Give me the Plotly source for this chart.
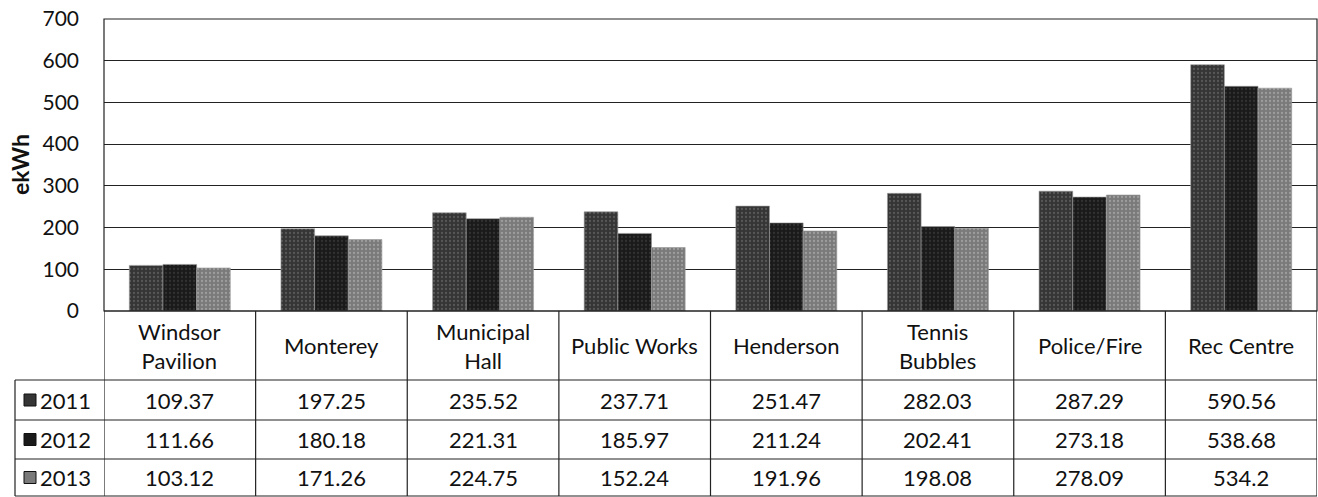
import plotly.graph_objects as go

categories = ["Windsor Pavilion", "Monterey", "Municipal Hall", "Public Works",
              "Henderson", "Tennis Bubbles", "Police/Fire", "Rec Centre"]
header_labels = ["Windsor<br>Pavilion", "Monterey", "Municipal<br>Hall", "Public Works",
                 "Henderson", "Tennis<br>Bubbles", "Police/Fire", "Rec Centre"]
series_names = ["2011", "2012", "2013"]
v2011 = [109.37, 197.25, 235.52, 237.71, 251.47, 282.03, 287.29, 590.56]
v2012 = [111.66, 180.18, 221.31, 185.97, 211.24, 202.41, 273.18, 538.68]
v2013 = [103.12, 171.26, 224.75, 152.24, 191.96, 198.08, 278.09, 534.2]
y_ticks = [0, 100, 200, 300, 400, 500, 600, 700]

series_values = [v2011, v2012, v2013]
colors = ["#353535", "#1a1a1a", "#7a7a7a"]
dot_colors = ["#7a7a7a", "#4a4a4a", "#c0c0c0"]
FONT = "Lato"
W, H = 1318, 497
ML, MR, MT, MB = 104, 1, 19, 186
PH = H - MT - MB
PW = W - ML - MR

def py(pix):
    return (H - MB - pix) / PH

def px(pix):
    return (pix - ML) / PW

fig = go.Figure()
n = len(categories)
for name, vals, c, dc in zip(series_names, series_values, colors, dot_colors):
    fig.add_trace(go.Bar(
        x=list(range(n)), y=vals, name=name,
        marker=dict(color=c, line=dict(color="#9a9a9a", width=0.6),
                    pattern=dict(shape=".", fgcolor=dc, size=4, solidity=0.25,
                                 fillmode="overlay")),
        showlegend=False,
    ))

shapes = []
annotations = []
line = dict(color="#222222", width=1.2)

# table horizontal lines (y in pixels)
row_lines = [311, 380, 420, 459, 496]
for i, yl in enumerate(row_lines):
    shapes.append(dict(type="line", xref="paper", yref="paper",
                       x0=(0 if i < 1 else px(15)), x1=1, y0=py(yl), y1=py(yl), line=line))
# vertical lines of table
for k in range(n + 1):
    shapes.append(dict(type="line", xref="x", yref="paper",
                       x0=k - 0.5, x1=k - 0.5, y0=py(311), y1=py(496), line=line))
# legend column left edge
shapes.append(dict(type="line", xref="paper", yref="paper",
                   x0=px(15), x1=px(15), y0=py(380), y1=py(496), line=line))
# plot frame
shapes.append(dict(type="rect", xref="paper", yref="paper", x0=0, x1=1, y0=0, y1=1,
                   line=line, fillcolor="rgba(0,0,0,0)"))

TS = 22
# header labels
for k, lab in enumerate(header_labels):
    annotations.append(dict(x=k, y=py(345.5), xref="x", yref="paper", text=lab,
                            showarrow=False, font=dict(family=FONT, size=TS, color="#111"),
                            xanchor="center", yanchor="middle", align="center"))
# data rows
row_centers = [400, 439.5, 477.5]
for r, (name, vals, c) in enumerate(zip(series_names, series_values, colors)):
    yc = py(row_centers[r])
    for k, v in enumerate(vals):
        annotations.append(dict(x=k, y=yc, xref="x", yref="paper", text=f"{v:g}",
                                showarrow=False, font=dict(family=FONT, size=TS, color="#111"),
                                xanchor="center", yanchor="middle"))
    annotations.append(dict(x=px(38), y=yc, xref="paper", yref="paper", text=name,
                            showarrow=False, font=dict(family=FONT, size=TS, color="#111"),
                            xanchor="left", yanchor="middle"))
    # legend key square
    shapes.append(dict(type="rect", xref="paper", yref="paper",
                       x0=px(24), x1=px(36), y0=yc - 6 / PH, y1=yc + 6 / PH,
                       fillcolor=c, line=dict(color="#111", width=1)))

annotations.append(dict(x=px(20), y=py(165), xref="paper", yref="paper", text="<b>ekWh</b>",
                        textangle=-90, showarrow=False,
                        font=dict(family=FONT, size=23, color="#111"),
                        xanchor="center", yanchor="middle"))

fig.update_layout(
    width=W, height=H,
    margin=dict(l=ML, r=MR, t=MT, b=MB, autoexpand=False),
    paper_bgcolor="white", plot_bgcolor="white",
    barmode="group", bargap=0.334, bargroupgap=0,
    shapes=shapes, annotations=annotations,
    font=dict(family=FONT, size=20, color="#111"),
)
fig.update_xaxes(range=[-0.5, n - 0.5], showticklabels=False, showgrid=False,
                 zeroline=False, showline=False, ticks="", automargin=False)
fig.update_yaxes(range=[0, 700], tickvals=y_ticks, showgrid=True, gridcolor="#222222",
                 gridwidth=1.2, zeroline=False, showline=False, ticks="", automargin=False,
                 ticklabelstandoff=24, tickfont=dict(family=FONT, size=21, color="#111"))

fig.write_html("out.html", config={"displayModeBar": False},
               post_script="document.body.style.margin='0';document.body.style.overflow='hidden';")
